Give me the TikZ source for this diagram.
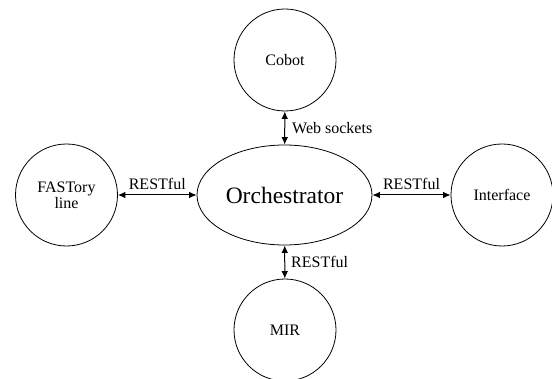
\documentclass[tikz,border=0pt]{standalone}
\usepackage{fontspec}
\setmainfont{Liberation Serif}
\usetikzlibrary{arrows.meta,positioning,shapes.geometric}
\tikzset{
  unitnode/.style={
    circle, draw=black, line width=0.8pt, inner sep=0pt,
    minimum size=102pt, align=center,
    font=\fontsize{16}{16}\selectfont
  },
  hubnode/.style={
    ellipse, draw=black, line width=0.8pt, inner sep=0pt,
    minimum width=175pt, minimum height=100pt,
    font=\fontsize{23.5}{26}\selectfont
  },
  linkarrow/.style={
    {Latex[length=7.5pt,width=6.5pt]}-{Latex[length=7.5pt,width=6.5pt]}, line width=1pt
  },
  linklabel/.style={
    font=\fontsize{16}{16}\selectfont, inner sep=2pt
  },
}

\begin{document}
\begin{tikzpicture}[x=1pt,y=1pt]
  \useasboundingbox (0,0) rectangle (552,378);
  % Central orchestrator
  \node[hubnode] (orch) at (284.5,183) {Orchestrator};

  % Connected units
  \node[unitnode] (cobot) at (285,318) {Cobot};
  \node[unitnode] (mir) at (285,48) {MIR};
  \node[unitnode] (fastory) at (66.5,183) {FASTory\\line};
  \node[unitnode] (iface) at (502,183) {Interface};

  % Links
  \draw[linkarrow] (fastory) -- (orch)
    node[midway, above, linklabel, yshift=2.5pt] {RESTful};
  \draw[linkarrow] (orch) -- (iface)
    node[midway, above, linklabel, yshift=2.5pt] {RESTful};
  \draw[linkarrow] (cobot) -- (orch)
    node[midway, right, linklabel, xshift=5pt] {Web sockets};
  \draw[linkarrow] (orch) -- (mir)
    node[midway, right, linklabel, xshift=4pt] {RESTful};
\end{tikzpicture}
\end{document}
